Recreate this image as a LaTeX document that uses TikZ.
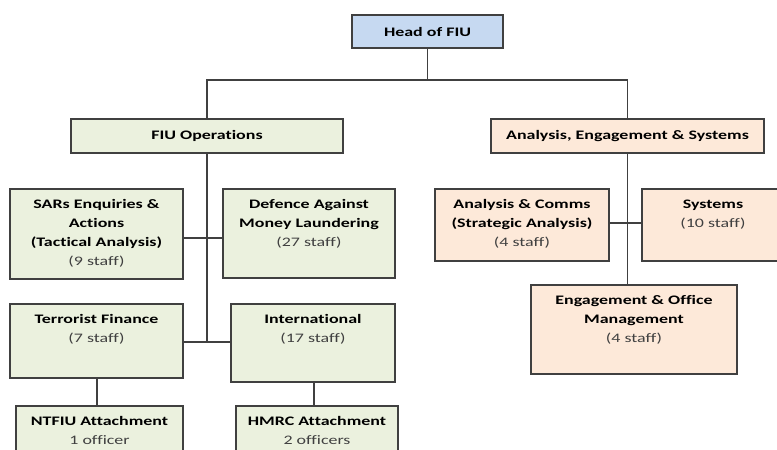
\documentclass[tikz,border=0pt]{standalone}
\usepackage{fontspec}
\setmainfont{Carlito}[FakeStretch=1.38, Ligatures=NoCommon]
\usepackage{tikz}
\usetikzlibrary{positioning,calc}
\definecolor{headblue}{RGB}{198,217,241}
\definecolor{opsgreen}{RGB}{235,241,222}
\definecolor{aesorange}{RGB}{253,233,217}
\definecolor{edge}{RGB}{64,64,64}
\definecolor{staffgray}{RGB}{64,64,64}
\newcommand{\staff}[1]{{\mdseries\color{staffgray}#1}}

\begin{document}
\begin{tikzpicture}[
    x=1pt, y=-1pt,
    font=\fontsize{13}{19}\selectfont\bfseries,
    box/.style={rectangle, draw=edge, line width=1.1pt, inner sep=0pt},
    headbox/.style={box, fill=headblue},
    opsbox/.style={box, fill=opsgreen},
    aesbox/.style={box, fill=aesorange},
    unittext/.style={anchor=north, align=center, inner sep=0pt, yshift=-11pt, execute at begin node=\strut},
    link/.style={draw=edge, line width=1.1pt}
]
    \useasboundingbox (0,0) rectangle (777,450);
    \clip (0,0) rectangle (777,450);

    % top level
    \node[headbox, minimum width=151pt, minimum height=33pt] (head) at (427.5,31.5) {Head of FIU};
    \node[opsbox, minimum width=272pt, minimum height=34pt] (fiuops) at (207,136) {FIU Operations};
    \node[aesbox, minimum width=273pt, minimum height=34pt] (aes) at (627.5,136) {Analysis, Engagement \& Systems};

    % FIU operations teams
    \node[opsbox, minimum width=173pt, minimum height=90pt] (sars) at (96.5,234) {};
    \node[opsbox, minimum width=172pt, minimum height=89pt] (daml) at (309,233.5) {};
    \node[opsbox, minimum width=173pt, minimum height=74pt] (tf) at (96.5,341) {};
    \node[opsbox, minimum width=164pt, minimum height=78pt] (intl) at (313,343) {};
    \node[opsbox, minimum width=167pt, minimum height=56pt] (ntfiu) at (99.5,434) {};
    \node[opsbox, minimum width=162pt, minimum height=56pt] (hmrc) at (317,434) {};

    \node[unittext] (sarstext) at (sars.north) {SARs Enquiries \&\\Actions\\(Tactical Analysis)\\\staff{(9 staff)}};
    \node[unittext] (damltext) at (daml.north) {Defence Against\\Money Laundering\\\staff{(27 staff)}};
    \node[unittext] (tftext) at (tf.north) {Terrorist Finance\\\staff{(7 staff)}};
    \node[unittext] (intltext) at (intl.north) {International\\\staff{(17 staff)}};
    \node[unittext] (ntfiutext) at (ntfiu.north) {NTFIU Attachment\\\staff{1 officer}};
    \node[unittext] (hmrctext) at (hmrc.north) {HMRC Attachment\\\staff{2 officers}};

    % analysis, engagement & systems teams
    \node[aesbox, minimum width=174pt, minimum height=72pt] (comms) at (522,225) {};
    \node[aesbox, minimum width=142pt, minimum height=72pt] (systems) at (713,225) {};
    \node[aesbox, minimum width=206pt, minimum height=89pt] (engage) at (634,329.5) {};

    \node[unittext] (commstext) at (comms.north) {Analysis \& Comms\\(Strategic Analysis)\\\staff{(4 staff)}};
    \node[unittext] (systemstext) at (systems.north) {Systems\\\staff{(10 staff)}};
    \node[unittext] (engagetext) at (engage.north) {Engagement \& Office\\Management\\\staff{(4 staff)}};

    % connectors
    \coordinate (split) at (427.5,80);
    \coordinate (opsbus) at (207,342);
    \draw[link] (head) -- (split);
    \draw[link] (fiuops.north) |- (split) -| (aes.north);
    \draw[link] (fiuops) -- (opsbus);
    \draw[link] ([yshift=-4pt]sars.east) -- ([yshift=-4pt]sars.east -| daml.west);
    \draw[link] (tf.east |- opsbus) -- (intl.west |- opsbus);
    \draw[link] (tf.south -| 97,0) -- (ntfiu.north -| 97,0);
    \draw[link] (intl.south -| 314,0) -- (hmrc.north -| 314,0);
    \draw[link] (aes) -- (aes.south |- engage.north);
    \draw[link] ([yshift=2pt]comms.east) -- ([yshift=2pt]comms.east -| systems.west);
\end{tikzpicture}
\end{document}
